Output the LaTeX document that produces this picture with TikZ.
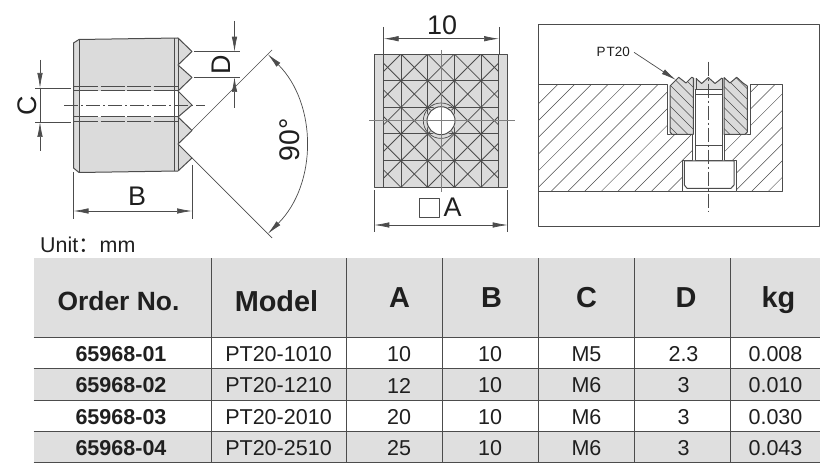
\documentclass[tikz,border=0pt]{standalone}
\usepackage{fontspec}
\setmainfont{Liberation Sans}
\newfontfamily\cjk{Noto Sans CJK SC}
\usetikzlibrary{arrows.meta}
\definecolor{inkcol}{rgb}{0.12,0.12,0.12}
\definecolor{linecol}{rgb}{0.3,0.3,0.3}
\definecolor{bodycol}{rgb}{0.86,0.86,0.86}
\definecolor{rowcol}{rgb}{0.875,0.875,0.875}
\tikzset{
  dimline/.style={draw=linecol,line width=0.7bp},
  edgeline/.style={draw=linecol,line width=1bp},
  hatchline/.style={draw=linecol,line width=0.5bp},
  centreline/.style={draw=linecol,line width=0.7bp,dash pattern=on 14bp off 3bp on 2bp off 3bp},
  dimlabel/.style={inner sep=0pt,text=inkcol,font=\fontsize{27}{27}\selectfont},
  headcell/.style={inner sep=0pt,text=inkcol,font=\fontsize{29}{29}\selectfont\bfseries},
  ordercell/.style={inner sep=0pt,text=inkcol,font=\fontsize{21.6}{21.6}\selectfont\bfseries},
  datacell/.style={inner sep=0pt,text=inkcol,font=\fontsize{21.6}{21.6}\selectfont},
}
\begin{document}
\begin{tikzpicture}[>={Latex[length=15bp,width=5.5bp]},line join=bevel,x=1bp,y=-1bp]
  \useasboundingbox (0,0) rectangle (832,475);
%%
% Part: side view
\begin{scope}
  \fill[bodycol] (73.5,43) -- (79,39.5) -- (178,38) -- (192,51.5) -- (178,65) -- (192,77.5) -- (178,91)
    -- (192,105) -- (178,117) -- (192,130.5) -- (178,144) -- (192,158) -- (178,171) -- (79,172.5) -- (73.5,168) -- cycle;
  \fill[white] (79,91) rectangle (178,117);
  \fill[bodycol] (178,91) -- (192,105) -- (178,117) -- cycle;
  \draw[edgeline] (73.5,43) -- (79,39.5) -- (178,38) -- (192,51.5) -- (178,65) -- (192,77.5) -- (178,91)
    -- (192,105) -- (178,117) -- (192,130.5) -- (178,144) -- (192,158) -- (178,171) -- (79,172.5) -- (73.5,168) -- cycle;
  \draw[edgeline] (79,39.5) -- (79,172.5);
  \draw[edgeline] (174,38.5) -- (174,171.5);
  \draw[edgeline] (178,38) -- (178,171);
  \foreach \holey in {87,91,117,122}
    \draw[edgeline,dash pattern=on 24bp off 2.5bp] (74,\holey) -- (178,\holey);
  \draw[centreline] (64,105) -- (205,105);
\end{scope}
  % Dim: C
  \draw[dimline] (35,88) -- (71,88);
  \draw[dimline] (35,122) -- (71,122);
  \draw[dimline,->] (40,60) -- (40,88);
  \draw[dimline,->] (40,151) -- (40,122);
  \draw[dimline] (40,88) -- (40,122);
  \node[dimlabel,rotate=90] (label_c) at (27,106) {C};
  % Dim: D
  \draw[dimline] (194,51.7) -- (240,51.7);
  \draw[dimline] (194,77) -- (240,77);
  \draw[dimline,->] (234.5,21) -- (234.5,51.7);
  \draw[dimline,->] (234.5,108) -- (234.5,77);
  \node[dimlabel,rotate=90] (label_d) at (221,64.5) {D};
  % Dim: B
  \draw[dimline] (73.5,172) -- (73.5,219);
  \draw[dimline] (192,165) -- (192,219);
  \draw[dimline,<->] (73.5,211) -- (192,211);
  \node[dimlabel] (label_b) at (137,196.5) {B};
  % Dim: 90 degrees
  \draw[dimline] (192,130) -- (272,50);
  \draw[dimline] (192,158) -- (272,238);
  \draw[dimline,<->] (178,144) ++(45:127bp) arc[start angle=45,end angle=-45,radius=127bp];
  \node[dimlabel,rotate=90,font=\fontsize{28.5}{28.5}\selectfont] (label_angle) at (290,140) {90°};
  % Text: unit
  \node[inner sep=0pt,anchor=base west,text=inkcol,font=\fontsize{21.5}{21.5}\selectfont] (unit) at (40,253) {Unit{\cjk ：}mm};
%%
% Part: front view
\begin{scope}
  \fill[bodycol] (374.3,54.3) rectangle (507.7,187.3);
  \begin{scope}
    \clip (383.5,54.3) rectangle (498.7,187.3);
    \foreach \n in {-6,...,6}
      \draw[hatchline,line width=0.8bp] ({360.3+\n*26.67},40) -- ({520.3+\n*26.67},200);
    \foreach \n in {-3,...,9}
      \draw[hatchline,line width=0.8bp] ({441.7+\n*26.67},40) -- ({281.7+\n*26.67},200);
  \end{scope}
  \foreach \gridx in {401,427.7,454.3,481}
    \draw[edgeline] (\gridx,54.3) -- (\gridx,187.3);
  \foreach \gridy in {80.7,107.3,134,160.7}
    \draw[edgeline] (383.5,\gridy) -- (498.7,\gridy);
  \fill[bodycol] (441,120.7) circle (15bp);
  \draw[edgeline] (374.3,54.3) rectangle (507.7,187.3);
  \draw[edgeline] (383.5,54.3) -- (383.5,187.3);
  \draw[edgeline] (498.7,54.3) -- (498.7,187.3);
  \draw[edgeline,fill=white] (441,120.7) circle (14bp);
  \fill[white] (441,120.7) circle (12.5bp);
  \draw[dimline] (441,120.7) ++(45:17.7bp) arc[start angle=45,end angle=315,radius=17.7bp];
  \draw[dimline,draw=gray] (441,50) -- (441,191.7);
  \draw[dimline,draw=gray] (369,120.7) -- (515,120.7);
\end{scope}
  % Dim: 10
  \draw[dimline] (383.7,27) -- (383.7,54);
  \draw[dimline] (499,27) -- (499,54);
  \draw[dimline,<->] (383.7,38.7) -- (499,38.7);
  \node[dimlabel] (label_ten) at (442,25) {10};
  % Dim: A
  \draw[dimline] (374.3,190) -- (374.3,232);
  \draw[dimline] (507.7,190) -- (507.7,232);
  \draw[dimline,<->] (374.3,225) -- (507.7,225);
  \draw[dimline] (419.3,198) rectangle (439,217);
  \node[dimlabel] (label_a) at (452.5,207.5) {A};
%%
% Part: mounted section
\begin{scope}
  \draw[edgeline] (819.5,24.3) -- (538,24.3) -- (538,226.3) -- (819.5,226.3) -- cycle;
  % Plate
  \begin{scope}
    \clip (538,84.3) -- (667.3,84.3) -- (667.3,134.3) -- (692.3,134.3) -- (692.3,161) -- (682.3,161)
      -- (682.3,191.7) -- (538,191.7) -- cycle
      (750,84.3) -- (782.3,84.3) -- (782.3,191.7) -- (736,191.7) -- (736,161) -- (724.3,161)
      -- (724.3,134.3) -- (750,134.3) -- cycle;
    \foreach \k in {0,...,24}
      \draw[hatchline] ({558+\k*16.7},84.3) -- ++(-108,108);
  \end{scope}
  \draw[edgeline] (538,84.3) -- (667.3,84.3) -- (667.3,134.3) -- (692.3,134.3) -- (692.3,161) -- (682.3,161)
    -- (682.3,191.7) -- (538,191.7);
  \draw[edgeline] (750,84.3) -- (782.3,84.3) -- (782.3,191.7) -- (736,191.7) -- (736,161) -- (724.3,161)
    -- (724.3,134.3) -- (750,134.3) -- cycle;
  \draw[edgeline] (682.3,191.7) -- (736,191.7);
  % Insert
  \fill[bodycol] (670,86) -- (678.7,77.3) -- (686,83) -- (691.7,77.3) -- (696,78.5) -- (701.7,83.5) -- (708.3,77.5)
    -- (715,83.5) -- (722,78) -- (724,77.5) -- (730,83) -- (736.7,77.3) -- (743,83) -- (747.3,86)
    -- (747.3,134.3) -- (724,134.3) -- (724,90) -- (693.3,90) -- (693.3,134.3) -- (670,134.3) -- cycle;
  \begin{scope}
    \clip (670,86) -- (678.7,77.3) -- (686,83) -- (691.7,77.3) -- (693.3,78) -- (693.3,134.3) -- (670,134.3) -- cycle
      (724,77.5) -- (730,83) -- (736.7,77.3) -- (743,83) -- (747.3,86) -- (747.3,134.3) -- (724,134.3) -- cycle;
    \foreach \k in {0,...,14}
      \draw[hatchline] ({620+\k*10.5},77) -- ++(60,60);
  \end{scope}
  \draw[edgeline] (670,86) -- (678.7,77.3) -- (686,83) -- (691.7,77.3) -- (693.3,78) -- (693.3,134.3) -- (672,134.3) -- (670,132) -- cycle;
  \draw[edgeline] (696,78.5) -- (701.7,83.5) -- (708.3,77.5) -- (715,83.5) -- (722,78);
  \draw[edgeline] (724,77.5) -- (730,83) -- (736.7,77.3) -- (743,83) -- (747.3,86) -- (747.3,132) -- (745,134.3) -- (724,134.3) -- cycle;
  % Screw
  \draw[edgeline,fill=white] (695,90) -- (722.3,90) -- (722.3,161) -- (695,161) -- cycle;
  \draw[edgeline] (696,94.3) -- (722.3,94.3);
  \draw[edgeline] (696,78) -- (696,90);
  \draw[edgeline] (722.3,78) -- (722.3,90);
  \draw[edgeline] (696,146) -- (722.3,146);
  \draw[edgeline,fill=white] (684.3,161) -- (734,161) -- (734,185) -- (731,188.3) -- (687,188.3) -- (684.3,185) -- cycle;
  \draw[centreline] (708.3,61.7) -- (708.3,211.7);
\end{scope}
  % Edge: PT20 -> insert
  \node[inner sep=0pt,text=inkcol,font=\fontsize{13.5}{13.5}\selectfont] (label_pt) at (613.2,52.3) {P\kern1bp T20};
  \coordinate (insert_tip) at (676,80);
  \draw[dimline,->] (label_pt.east) ++(4bp,0bp) -- (insert_tip);
%%
% Table: shading and rules
  \fill[rowcol] (33.7,258.3) rectangle (820.3,337.3);
  \fill[rowcol] (33.7,368.3) rectangle (820.3,400);
  \fill[rowcol] (33.7,431.5) rectangle (820.3,462.7);
  \foreach \ruley in {337.3,368.3,400,431.5,462.7}
    \draw[edgeline] (33.7,\ruley) -- (820.3,\ruley);
  \foreach \rulex in {211,346,442.3,538.3,634.3,730.3}
    \draw[edgeline] (\rulex,258.3) -- (\rulex,462.7);
  % Table: header
  \node[headcell,font=\fontsize{26.5}{26.5}\selectfont\bfseries] (head_order) at (118.5,301) {Order No.};
  \node[headcell] (head_model) at (276.5,301) {Model};
  \node[headcell] (head_a) at (399.5,298) {A};
  \node[headcell] (head_b) at (491.5,298) {B};
  \node[headcell] (head_c) at (586.5,298) {C};
  \node[headcell] (head_d) at (686,298) {D};
  \node[headcell] (head_kg) at (778.5,300) {kg};
  % Table: rows
  \foreach \n/\rowy/\order/\model/\a/\c/\d/\kg in {
    1/354/65968-01/PT20-1010/10/M5/2.3/0.008,
    2/385.5/65968-02/PT20-1210/12/M6/3/0.010,
    3/417/65968-03/PT20-2010/20/M6/3/0.030,
    4/448/65968-04/PT20-2510/25/M6/3/0.043}
  {
    \node[ordercell] (order_\n) at (121,\rowy) {\order};
    \node[datacell] (model_\n) at (278.5,\rowy) {\model};
    \node[datacell] (a_\n) at (399,\rowy) {\a};
    \node[datacell] (b_\n) at (490,\rowy) {10};
    \node[datacell] (c_\n) at (586.5,\rowy) {\c};
    \node[datacell] (d_\n) at (683.5,\rowy) {\d};
    \node[datacell] (kg_\n) at (775.5,\rowy) {\kg};
  }
%
\end{tikzpicture}
\end{document}
